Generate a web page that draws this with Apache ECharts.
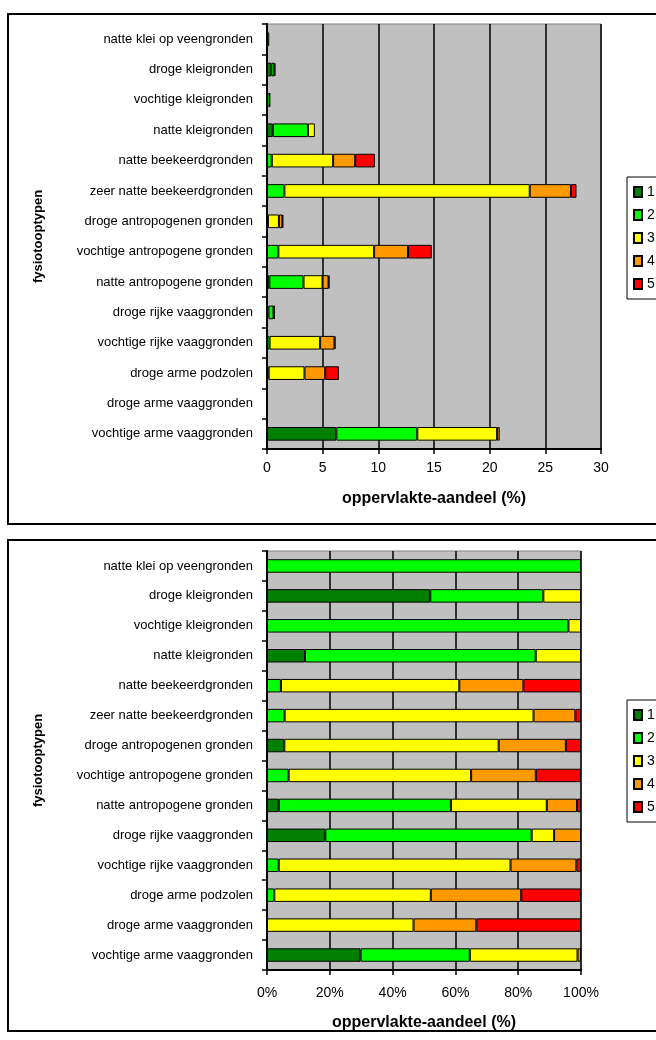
<!DOCTYPE html>
<html>
<head>
<meta charset="utf-8">
<script src="https://cdn.jsdelivr.net/npm/echarts@6/dist/echarts.min.js"></script>
<style>
  html, body { margin: 0; padding: 0; background: #fff; }
  #chart { width: 656px; height: 1040px; }
</style>
</head>
<body>
<div id="chart"></div>
<script>
// Soil-type categories (top row first)
const categories = [
  'natte klei op veengronden',
  'droge kleigronden',
  'vochtige kleigronden',
  'natte kleigronden',
  'natte beekeerdgronden',
  'zeer natte beekeerdgronden',
  'droge antropogenen gronden',
  'vochtige antropogene gronden',
  'natte antropogene gronden',
  'droge rijke vaaggronden',
  'vochtige rijke vaaggronden',
  'droge arme podzolen',
  'droge arme vaaggronden',
  'vochtige arme vaaggronden'
];

const classNames = ['1', '2', '3', '4', '5'];
const classColors = ['#008000', '#00ff00', '#ffff00', '#ff9900', '#ff0000'];

// Surface share (%) per class
const class1 = [0, 0.39, 0, 0.52, 0, 0, 0.08, 0, 0.21, 0.13, 0, 0, 0, 6.23];
const class2 = [0.2, 0.27, 0.24, 3.16, 0.43, 1.56, 0, 1.02, 3.07, 0.46, 0.23, 0.15, 0, 7.27];
const class3 = [0, 0.09, 0.01, 0.62, 5.51, 22.04, 0.99, 8.6, 1.71, 0.05, 4.54, 3.22, 0.014, 7.17];
const class4 = [0, 0, 0, 0, 1.98, 3.7, 0.31, 3.05, 0.54, 0.06, 1.29, 1.86, 0.006, 0.23];
const class5 = [0, 0, 0, 0, 1.78, 0.5, 0.07, 2.13, 0.07, 0, 0.09, 1.23, 0.01, 0];

const absTicks = [0, 5, 10, 15, 20, 25, 30];
const pctTicks = [0, 20, 40, 60, 80, 100];

const classes = [class1, class2, class3, class4, class5];
const totals = categories.map((_, i) => classes.reduce((s, c) => s + c[i], 0));

const FONT = '"Liberation Sans", Arial, sans-serif';
const black = '#000';

// One stacked bar series; in the lower chart each row is scaled to 100 %
function series(values, idx, stack, axis, toPct) {
  return {
    name: classNames[idx],
    type: 'bar',
    stack: stack,
    xAxisIndex: axis,
    yAxisIndex: axis,
    barWidth: '45%',
    itemStyle: { color: classColors[idx], borderColor: black, borderWidth: 1 },
    emphasis: { disabled: true },
    data: values.map((v, i) => v > 0 ? (toPct ? v / totals[i] * 100 : v) : '-')
  };
}

function catAxis(gridIndex) {
  return {
    type: 'category',
    gridIndex: gridIndex,
    data: categories,
    inverse: true,
    name: 'fysiotooptypen',
    nameLocation: 'middle',
    nameRotate: 90,
    nameGap: 222,
    nameTextStyle: { fontFamily: FONT, fontSize: 13, fontWeight: 'bold', color: black },
    axisLine: { show: true, lineStyle: { color: black, width: 2 } },
    axisTick: { show: true, length: 5, lineStyle: { color: black, width: 1.5 } },
    axisLabel: { fontFamily: FONT, fontSize: 13, color: black, margin: 14 },
    splitLine: { show: false }
  };
}

function valAxis(gridIndex, ticks, labelMargin, nameGap, fmt) {
  return {
    type: 'value',
    gridIndex: gridIndex,
    min: ticks[0],
    max: ticks[ticks.length - 1],
    interval: ticks[1] - ticks[0],
    name: 'oppervlakte-aandeel (%)',
    nameLocation: 'middle',
    nameGap: nameGap,
    nameTextStyle: { fontFamily: FONT, fontSize: 16, fontWeight: 'bold', color: black },
    axisLine: { show: true, lineStyle: { color: black, width: 2 } },
    axisTick: { show: true, length: 5, lineStyle: { color: black, width: 1.5 } },
    axisLabel: { fontFamily: FONT, fontSize: 14, color: black, margin: labelMargin, formatter: fmt },
    splitLine: { show: true, lineStyle: { color: black, width: 1.5 } }
  };
}

function legendAt(top) {
  return {
    orient: 'vertical',
    left: 627,
    top: top,
    icon: 'rect',
    itemWidth: 8,
    itemHeight: 10,
    itemGap: 9,
    padding: [8, 40, 8, 6],
    borderColor: black,
    borderWidth: 1,
    selectedMode: false,
    textStyle: { fontFamily: FONT, fontSize: 14, color: black },
    data: classNames
  };
}

const option = {
  animation: false,
  backgroundColor: '#fff',
  grid: [
    { left: 267, top: 24, width: 334, height: 425, show: true,
      backgroundColor: '#c0c0c0', borderColor: '#808080', borderWidth: 1 },
    { left: 267, top: 551, width: 314, height: 419, show: true,
      backgroundColor: '#c0c0c0', borderColor: '#808080', borderWidth: 1 }
  ],
  xAxis: [
    valAxis(0, absTicks, 12, 42, '{value}'),
    valAxis(1, pctTicks, 16, 45, '{value}%')
  ],
  yAxis: [catAxis(0), catAxis(1)],
  legend: [legendAt(177), legendAt(700)],
  graphic: [
    { type: 'rect', silent: true, shape: { x: 8, y: 14, width: 720, height: 510 },
      style: { fill: 'none', stroke: black, lineWidth: 2 } },
    { type: 'rect', silent: true, shape: { x: 8, y: 540, width: 720, height: 491 },
      style: { fill: 'none', stroke: black, lineWidth: 2 } }
  ],
  series: [
    ...classes.map((c, i) => series(c, i, 'abs', 0, false)),
    ...classes.map((c, i) => series(c, i, 'pct', 1, true))
  ]
};

const chart = echarts.init(document.getElementById('chart'), null, { renderer: 'canvas' });
chart.setOption(option);
</script>
</body>
</html>
